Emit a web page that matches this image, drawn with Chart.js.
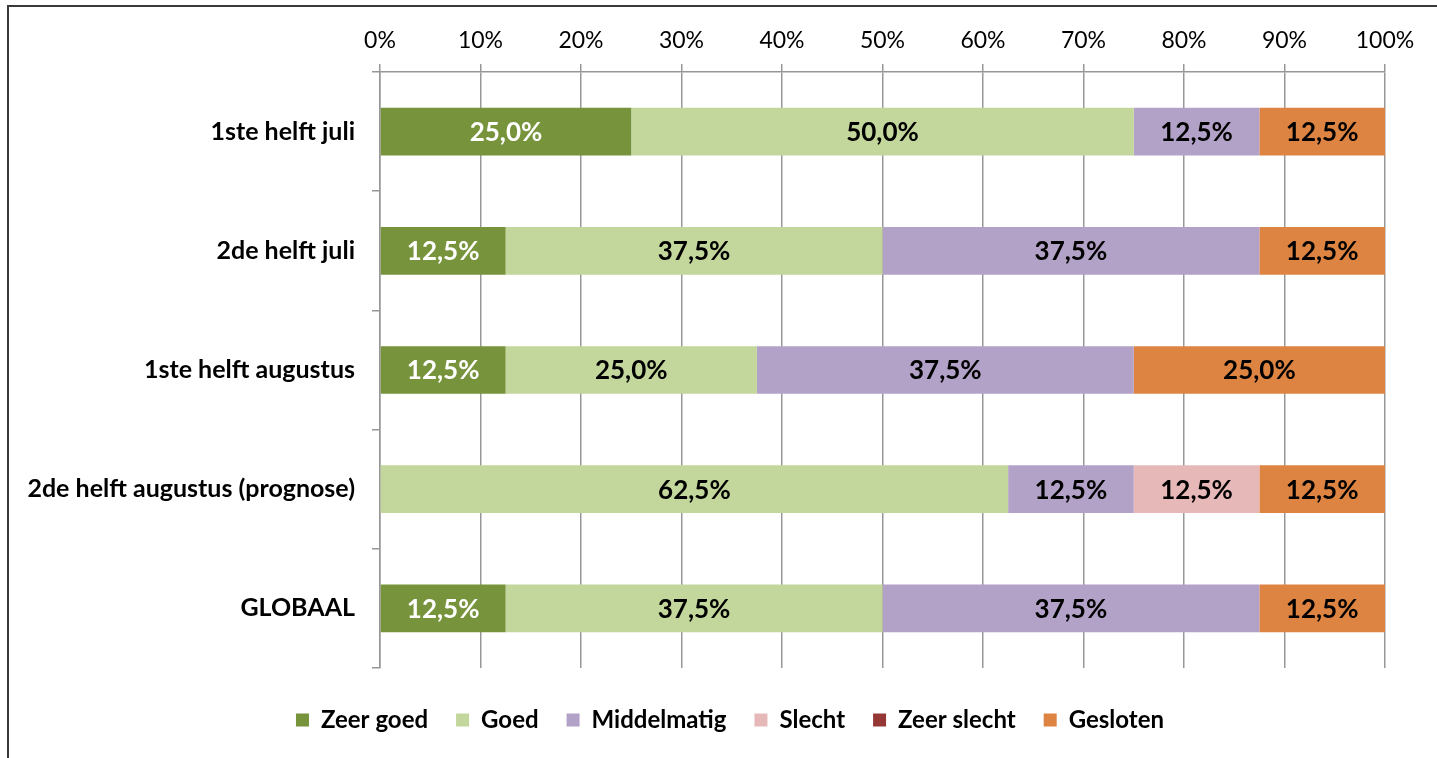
<!DOCTYPE html>
<html>
<head>
<meta charset="utf-8">
<script src="https://cdn.jsdelivr.net/npm/chart.js@4.4.0/dist/chart.umd.min.js"></script>
<style>
  body { margin: 0; background: #fff; overflow: hidden; }
  #wrap { position: relative; width: 1437px; height: 758px; }
  #frame { position: absolute; left: 7px; top: 5px; width: 1450px; height: 770px; border: 2px solid #3a3a3a; box-sizing: border-box; pointer-events: none; }
</style>
</head>
<body>
<div id="wrap">
  <canvas id="chart" width="1437" height="758"></canvas>
  <div id="frame"></div>
</div>
<script>
//categories (top to bottom) and the share per rating, in percent
const categories = ["1ste helft juli", "2de helft juli", "1ste helft augustus", "2de helft augustus (prognose)", "GLOBAAL"];

const zeerGoed    = [25.0, 12.5, 12.5, 0,    12.5];
const goed        = [50.0, 37.5, 25.0, 62.5, 37.5];
const middelmatig = [12.5, 37.5, 37.5, 12.5, 37.5];
const slecht      = [0,    0,    0,    12.5, 0];
const zeerSlecht  = [0,    0,    0,    0,    0];
const gesloten    = [12.5, 12.5, 25.0, 12.5, 12.5];

const seriesNames = ["Zeer goed", "Goed", "Middelmatig", "Slecht", "Zeer slecht", "Gesloten"];
const seriesColours = ["#77933c", "#c3d69b", "#b3a2c7", "#e6b9b8", "#953735", "#dd8442"];
const labelColours = ["#ffffff", "#000000", "#000000", "#000000", "#000000", "#000000"];

const xTicks = [0, 10, 20, 30, 40, 50, 60, 70, 80, 90, 100];

const FONT = "Lato, 'Open Sans', sans-serif";

//draws "25,0%" style labels in the middle of each segment (skips zeros)
const barLabels = {
  id: "barLabels",
  afterDatasetsDraw(chart) {
    const ctx = chart.ctx;
    ctx.save();
    ctx.font = "bold 26px " + FONT;
    ctx.textAlign = "center";
    ctx.textBaseline = "middle";
    chart.data.datasets.forEach((ds, i) => {
      const meta = chart.getDatasetMeta(i);
      meta.data.forEach((bar, j) => {
        const v = ds.data[j];
        if (!v) return;
        const cx = (bar.x + bar.base) / 2;
        ctx.fillStyle = labelColours[i];
        ctx.fillText(v.toFixed(1).replace(".", ",") + "%", cx, bar.y + 1);
      });
    });
    ctx.restore();
  }
};

//legend in the original sits a bit right of the canvas centre, nudge its box
const legendShift = {
  id: "legendShift",
  afterLayout(chart) {
    chart.legend.left = 75;
    chart.legend.right = 1385;
  }
};

const datasets = [zeerGoed, goed, middelmatig, slecht, zeerSlecht, gesloten].map((vals, i) => ({
  label: seriesNames[i],
  data: vals,
  backgroundColor: seriesColours[i],
  borderWidth: 0,
  barPercentage: 0.8,
  categoryPercentage: 0.5
}));

const gridGrey = "#979797";

new Chart(document.getElementById("chart"), {
  type: "bar",
  data: { labels: categories, datasets: datasets },
  plugins: [barLabels, legendShift],
  options: {
    indexAxis: "y",
    responsive: false,
    animation: false,
    layout: { padding: { top: 0, right: 52, bottom: 16, left: 0 } },
    plugins: {
      legend: {
        position: "bottom",
        labels: {
          boxWidth: 13,
          boxHeight: 13,
          padding: 28,
          color: "#000",
          font: { family: FONT, size: 24, weight: "bold" },
          generateLabels(chart) {
            return chart.data.datasets.map((ds, i) => ({
              text: ds.label,
              fillStyle: ds.backgroundColor,
              strokeStyle: ds.backgroundColor,
              lineWidth: 0,
              datasetIndex: i
            }));
          }
        }
      },
      tooltip: { enabled: false }
    },
    scales: {
      x: {
        position: "top",
        stacked: true,
        min: 0,
        max: 100,
        afterBuildTicks(scale) { scale.ticks = xTicks.map(v => ({ value: v })); },
        afterFit(scale) { scale.height = 72; },
        ticks: {
          color: "#000",
          padding: 10,
          maxRotation: 0,
          font: { family: FONT, size: 23 },
          callback: v => v + "%"
        },
        grid: { color: gridGrey, lineWidth: 1.5, tickLength: 8 },
        border: { color: gridGrey, width: 1.5 }
      },
      x2: {
        type: "linear",
        position: "bottom",
        display: true,
        afterFit(scale) { scale.height = 12; },
        ticks: { display: false },
        grid: { display: false },
        border: { display: false }
      },
      y: {
        stacked: true,
        afterFit(scale) { scale.width = 380; },
        ticks: {
          color: "#000",
          padding: 17,
          font: { family: FONT, size: 25, weight: "bold" }
        },
        grid: { drawOnChartArea: false, color: gridGrey, lineWidth: 1.5, tickLength: 8, offset: true },
        border: { color: gridGrey, width: 1.5 }
      }
    }
  }
});
</script>
</body>
</html>
